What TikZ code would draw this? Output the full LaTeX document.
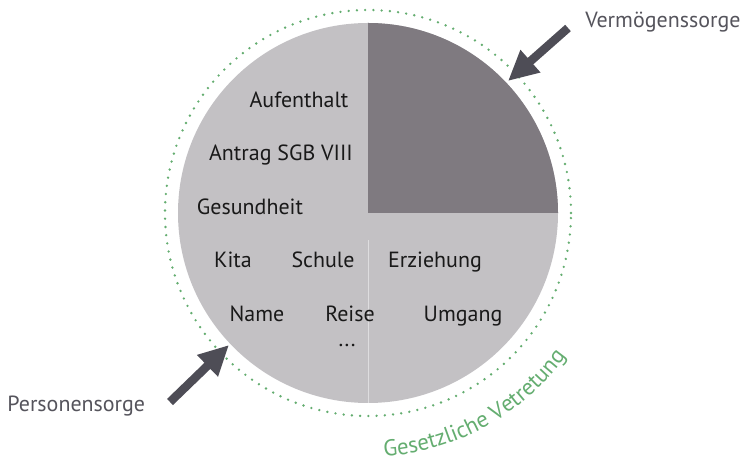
\documentclass[tikz,border=0pt]{standalone}
\usepackage{fontspec}
\setmainfont{PT Sans}
\usetikzlibrary{arrows.meta, decorations.text}

\definecolor{lightpie}{HTML}{C3C1C4}
\definecolor{darkpie}{HTML}{7F7A80}
\definecolor{arrowgray}{HTML}{4E4D56}
\definecolor{vertgreen}{HTML}{64AD70}
\definecolor{sidetext}{HTML}{55545C}

\begin{document}
\begin{tikzpicture}[x = 0.02cm, y = 0.02cm, font = \fontsize{12.5}{15}\selectfont,
	task/.style = {anchor = base, text = black!90, inner sep = 0pt},
	side/.style = {anchor = base west, text = sidetext, inner sep = 0pt},
	pointer/.style = {draw = arrowgray, line width = 0.17cm, -{Triangle[length = 0.6cm, width = 0.56cm]}}]

	\useasboundingbox (0, 0) rectangle (749, 462);

	% pie
	\coordinate (c) at (368, 249);
	\fill [lightpie] (c) circle (190);
	\fill [darkpie] (c) -- ++(0, 190) arc (90:0:190) -- cycle;
	\draw [white!45!lightpie, line width = 0.4pt] (368, 222) -- (368, 59);
	\draw [vertgreen, line width = 1.5pt, line cap = round, dash pattern = on 0pt off 4.696pt] (c) circle (203);

	% duties
	\node [task] (aufenthalt) at (299, 354) {Aufenthalt};
	\node [task] (antrag) at (281, 301) {Antrag SGB VIII};
	\node [task] (gesundheit) at (250, 247) {Gesundheit};
	\node [task] (kita) at (233, 194) {Kita};
	\node [task] (schule) at (323, 194) {Schule};
	\node [task] (erziehung) at (435, 194) {Erziehung};
	\node [task] (name) at (257, 140) {Name};
	\node [task] (reise) at (350, 140) {Reise};
	\node [task] (umgang) at (463, 140) {Umgang};
	\node [task] (mehr) at (347, 115) {...};

	% outside labels
	\node [side] (vermoegen) at (585, 434) {Vermögenssorge};
	\node [side] (person) at (7, 50) {Personensorge};

	\coordinate (vtail) at (568, 434);
	\coordinate (vtip) at (508, 381);
	\coordinate (ptail) at (170, 60);
	\coordinate (ptip) at (229, 117);
	\draw [pointer] (vtail) -- (vtip);
	\draw [pointer] (ptail) -- (ptip);

	\path [decorate, decoration = {text along path, text align = center,
		text = {|\fontsize{13}{16}\selectfont\color{vertgreen}|Gesetzliche Vetretung}}]
		(c) ++(-100:244) arc (-100:-22:244);

\end{tikzpicture}
\end{document}
